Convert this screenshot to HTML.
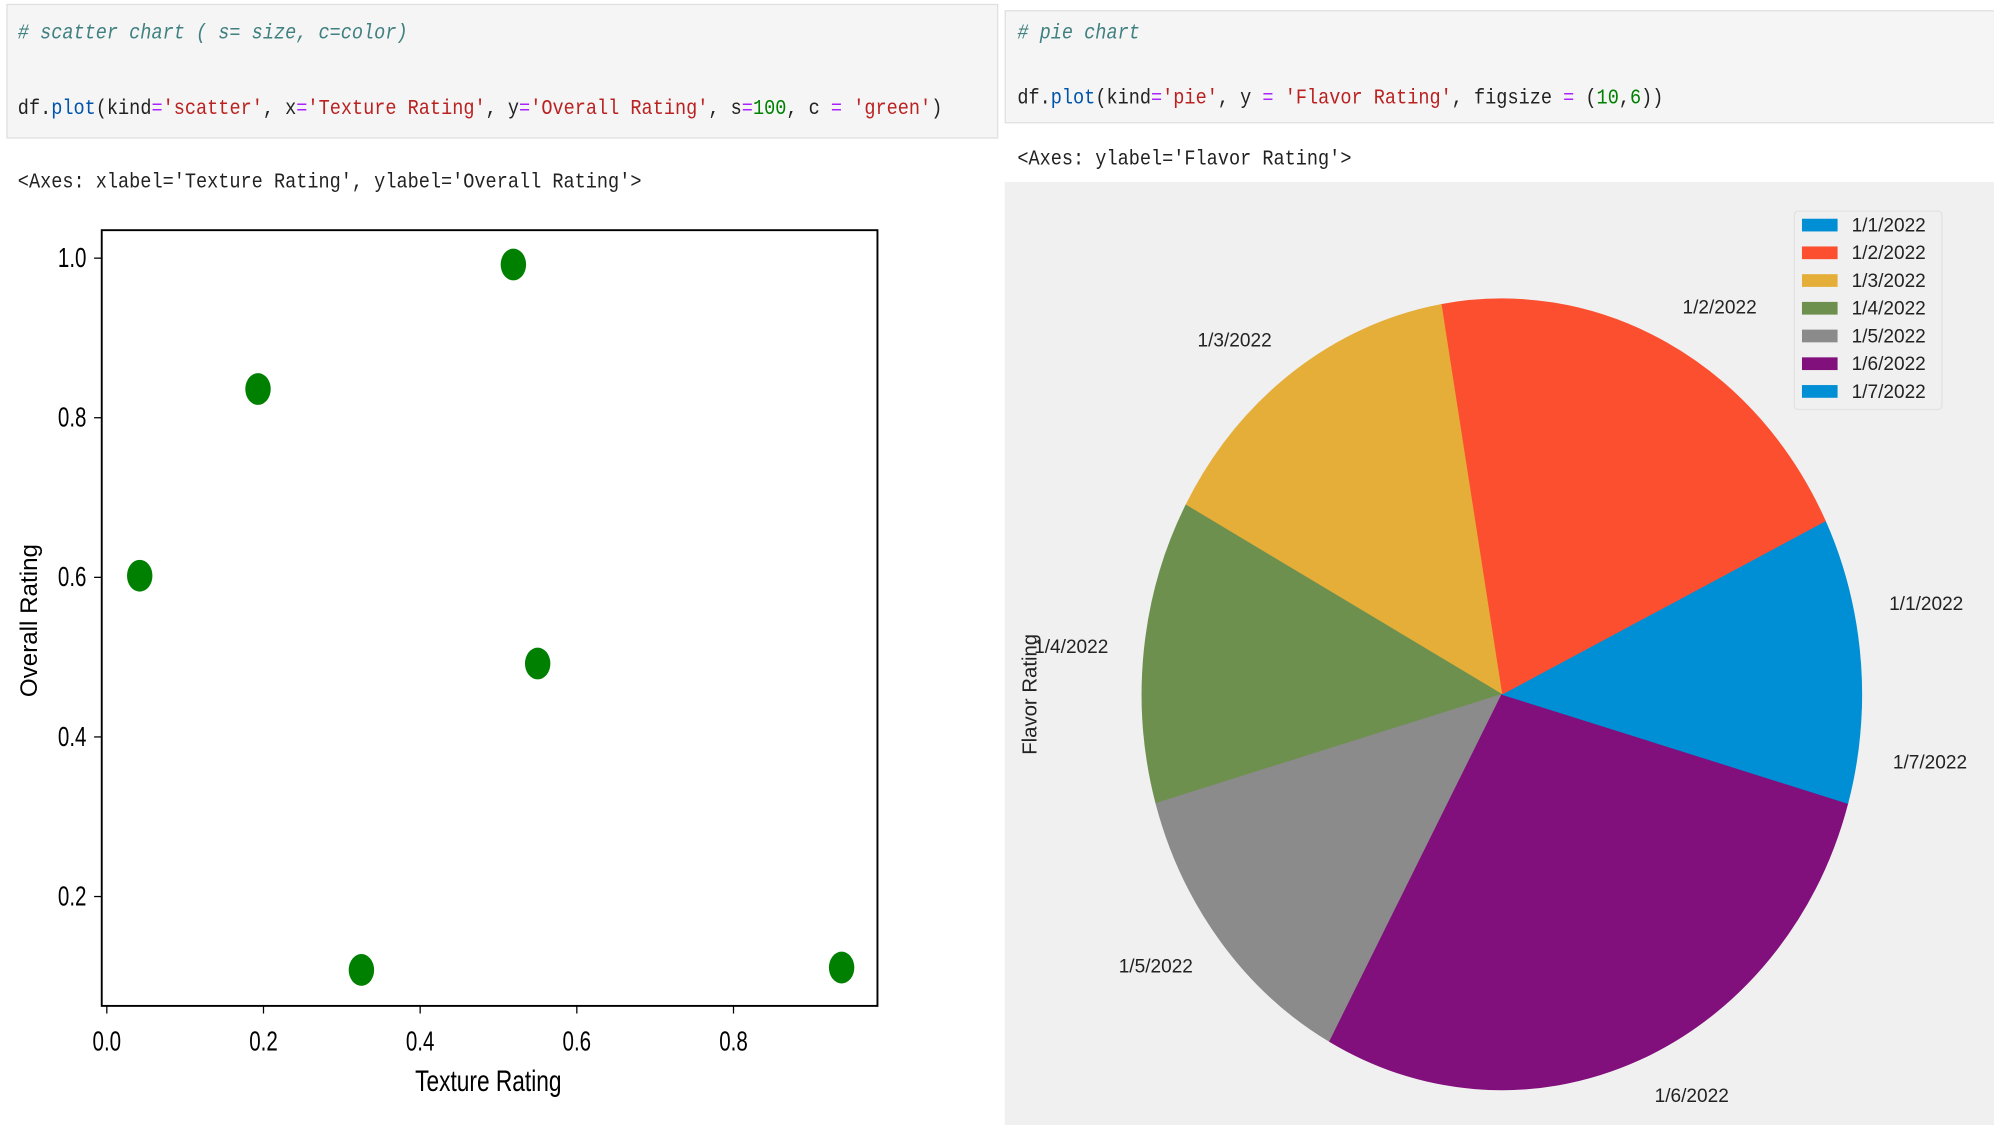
<!DOCTYPE html>
<html><head><meta charset="utf-8">
<style>
html,body{margin:0;padding:0;background:#fff;width:1994px;height:1125px;overflow:hidden}
#wrap{position:absolute;left:0;top:0;width:1568px;height:885px;transform:scale(1.27168);transform-origin:0 0;font-family:"Liberation Sans",sans-serif}
.cell{position:absolute;background:#f5f5f5;border:1px solid #e0e0e0}
.code{position:absolute;font-family:"Liberation Mono",monospace;font-size:14.6px;white-space:pre;color:#222;transform:scaleY(1.15);transform-origin:0 50%}
.cm{color:#408080;font-style:italic}.op{color:#aa22ff}.st{color:#ba2121}.nu{color:#008000}.fn{color:#0055aa}
</style></head><body>
<div id="wrap">
<div class="cell" style="left:5px;top:3px;width:778px;height:104px"></div>
<div class="code cm" style="left:14px;top:19px">#&nbsp;scatter chart ( s= size, c=color)</div>
<div class="code" style="left:14px;top:78px">df.<span class="fn">plot</span>(kind<span class="op">=</span><span class="st">'scatter'</span>, x<span class="op">=</span><span class="st">'Texture Rating'</span>, y<span class="op">=</span><span class="st">'Overall Rating'</span>, s<span class="op">=</span><span class="nu">100</span>, c <span class="op">=</span> <span class="st">'green'</span>)</div>
<div class="code" style="left:14px;top:136px">&lt;Axes: xlabel='Texture Rating', ylabel='Overall Rating'&gt;</div>

<div class="cell" style="left:790px;top:8px;width:778px;height:87px"></div>
<div class="code cm" style="left:800px;top:19px">#&nbsp;pie chart</div>
<div class="code" style="left:800px;top:70px">df.<span class="fn">plot</span>(kind<span class="op">=</span><span class="st">'pie'</span>, y <span class="op">=</span> <span class="st">'Flavor Rating'</span>, figsize <span class="op">=</span> (<span class="nu">10</span>,<span class="nu">6</span>))</div>
<div class="code" style="left:800px;top:118px">&lt;Axes: ylabel='Flavor Rating'&gt;</div>

<svg id="sc" style="position:absolute;left:0;top:0" width="785" height="885"></svg>
<svg id="pie" style="position:absolute;left:790px;top:143px" width="778" height="742"></svg>
</div>
<script>
const texture=[0.519,0.193,0.042,0.550,0.325,0.938];
const overall=[0.992,0.836,0.602,0.492,0.108,0.111];
const xTicks=[0.0,0.2,0.4,0.6,0.8];
const yTicks=[0.2,0.4,0.6,0.8,1.0];
const pieLabels=['1/1/2022','1/2/2022','1/3/2022','1/4/2022','1/5/2022','1/6/2022','1/7/2022'];
const flavor=[0.28,0.737,0.517,0.446,0.454,1.026,0.14];
const pieColors=['#008fd5','#fc4f30','#e5ae38','#6d904f','#8b8b8b','#810f7c','#008fd5'];
const startAngle=-2;

const NS='http://www.w3.org/2000/svg';
function mk(p,tag,attrs,txt){const e=document.createElementNS(NS,tag);for(const k in attrs)e.setAttribute(k,attrs[k]);if(txt!==undefined)e.textContent=txt;p.appendChild(e);return e;}

// scatter
const sc=document.getElementById('sc');
const X=v=>84+v*616, Y=v=>830.5-v*627.5;
let ax=mk(sc,'rect',{x:80,y:181,width:610,height:610,fill:'#fff',stroke:'#000','stroke-width':1.5});

xTicks.forEach(t=>{
  let l=mk(sc,'line',{x1:X(t),x2:X(t),y1:791,y2:797,stroke:'#000'});
  
  let tx=mk(sc,'text',{x:X(t),y:826,'text-anchor':'middle','font-size':19,transform:`translate(${X(t)},826) scale(0.85,1.15) translate(${-X(t)},-826)`},t.toFixed(1));
  
});
yTicks.forEach(t=>{
  let l=mk(sc,'line',{x1:74,x2:80,y1:Y(t),y2:Y(t),stroke:'#000'});
  
  let tx=mk(sc,'text',{x:68,y:Y(t)+7,'text-anchor':'end','font-size':19,transform:`translate(68,${Y(t)+7}) scale(0.85,1.15) translate(-68,${-(Y(t)+7)})`},t.toFixed(1));
  
});
texture.forEach((v,i)=>{
  let c=mk(sc,'ellipse',{cx:X(v),cy:Y(overall[i]),rx:10,ry:12.5,fill:'#008000'});
  
});
let xl=mk(sc,'text',{x:384,y:858,'text-anchor':'middle','font-size':21,transform:'translate(384,858) scale(0.85,1.1) translate(-384,-858)'},'Texture Rating');

let yl=mk(sc,'text',{x:0,y:0,'text-anchor':'middle','font-size':19,transform:'translate(29,488) rotate(-90)'},'Overall Rating');


// pie
const pie=document.getElementById('pie');
let bg=mk(pie,'rect',{x:0,y:0,width:778,height:742,fill:'#f0f0f0'});

const cx=391,cy=403,rx=283,ry=311;
const total=flavor.reduce((a,b)=>a+b,0);
let ang=startAngle;
const pt=(a,k)=>[cx+k*rx*Math.cos(a*Math.PI/180),cy-k*ry*Math.sin(a*Math.PI/180)];
flavor.forEach((v,i)=>{
  const sw=v/total*360,a1=ang,a2=ang+sw;
  const p1=pt(a1,1),p2=pt(a2,1);
  let s=mk(pie,'path',{d:`M${cx},${cy}L${p1[0]},${p1[1]}A${rx},${ry} 0 ${sw>180?1:0} 0 ${p2[0]},${p2[1]}Z`,fill:pieColors[i],stroke:pieColors[i],'stroke-width':0.6});
  
  const m=(a1+a2)/2,lp=pt(m,1.1);
  const right=Math.cos(m*Math.PI/180)>=0;
  let t=mk(pie,'text',{x:lp[0],y:lp[1]+5,'text-anchor':right?'start':'end','font-size':15,fill:'#222'},pieLabels[i]);
  
  ang=a2;
});
let fl=mk(pie,'text',{x:0,y:0,'text-anchor':'middle','font-size':16,fill:'#222',transform:'translate(25,403) rotate(-90)'},'Flavor Rating');

let lg=mk(pie,'rect',{x:621,y:23,width:116,height:156,fill:'#f0f0f0',stroke:'#e2e2e2',rx:3});

pieLabels.forEach((l,i)=>{
  const y=34+i*21.8;
  let r=mk(pie,'rect',{x:627,y:y-5,width:28,height:10,fill:pieColors[i]});
  
  let t=mk(pie,'text',{x:666,y:y+5,'font-size':15,fill:'#222'},l);
  
});
</script>
</body></html>
